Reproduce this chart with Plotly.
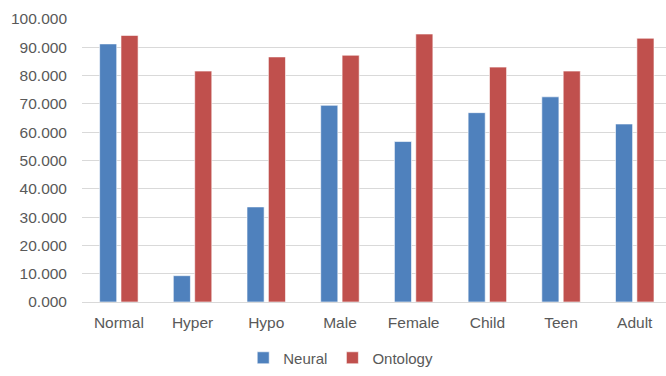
import plotly.graph_objects as go

categories = ["Normal", "Hyper", "Hypo", "Male", "Female", "Child", "Teen", "Adult"]
neural = [91.2, 9.3, 33.6, 69.5, 56.7, 66.9, 72.5, 62.9]
ontology = [94.2, 81.6, 86.6, 87.2, 94.7, 83.0, 81.6, 93.2]
y_ticks = [0, 10, 20, 30, 40, 50, 60, 70, 80, 90, 100]

font = "Liberation Sans, Arial, sans-serif"
grey = "#595959"

fig = go.Figure()
fig.add_trace(go.Bar(x=categories, y=neural, name="Neural",
                     marker=dict(color="#4F81BD", line=dict(color="#FFFFFF", width=0.6))))
fig.add_trace(go.Bar(x=categories, y=ontology, name="Ontology",
                     marker=dict(color="#C0504D", line=dict(color="#FFFFFF", width=0.6))))

fig.update_layout(
    width=666, height=376,
    margin=dict(l=82, r=0, t=19, b=74, autoexpand=False),
    paper_bgcolor="white", plot_bgcolor="white",
    barmode="group", bargap=0.42, bargroupgap=0.2,
    font=dict(family=font, size=15.5, color=grey),
    showlegend=True,
    legend=dict(orientation="h", x=0.443, xanchor="center", y=-0.198, yanchor="middle",
                font=dict(family=font, size=15, color=grey),
                itemwidth=30, traceorder="normal", tracegroupgap=0),
)
fig.update_xaxes(range=[-0.5, 7.424], showgrid=False, showline=True,
                 linecolor="#D9D9D9", linewidth=1, ticks="", automargin=False,
                 ticklabelstandoff=6,
                 tickfont=dict(family=font, size=15.5, color=grey))
fig.update_yaxes(range=[0, 100], tickvals=y_ticks, automargin=False,
                 ticktext=[f"{v:.3f}" for v in y_ticks],
                 showgrid=True, gridcolor="#D9D9D9", gridwidth=1,
                 zeroline=False, showline=False, ticks="",
                 ticklabelstandoff=14,
                 tickfont=dict(family=font, size=15.5, color=grey))

fig.write_html("out.html", config={"displayModeBar": False},
               post_script="document.body.style.margin='0px';document.body.style.overflow='hidden';")
